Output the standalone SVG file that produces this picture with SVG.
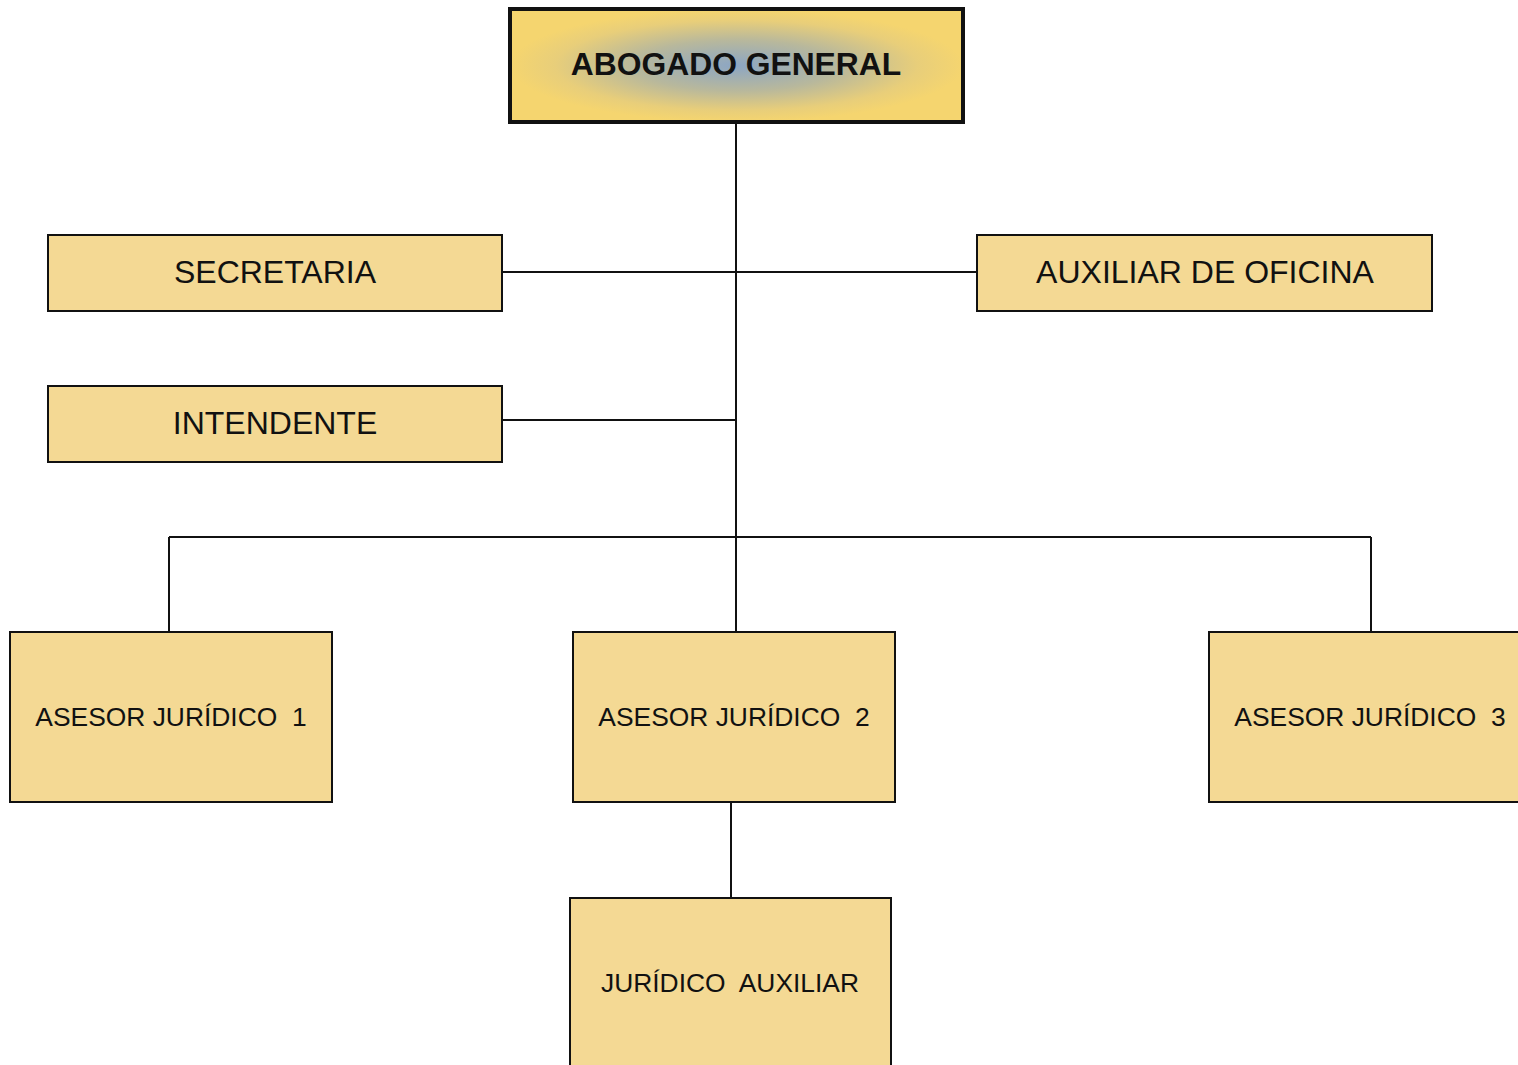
<svg xmlns="http://www.w3.org/2000/svg" width="1518" height="1065" viewBox="0 0 1518 1065">
<defs>
<radialGradient id="g1" cx="0.5" cy="0.5" r="0.5">
<stop offset="0" stop-color="#8CA6C4"/>
<stop offset="0.45" stop-color="#B8B89C"/>
<stop offset="0.8" stop-color="#E8CE7A"/>
<stop offset="1" stop-color="#F5D56F"/>
</radialGradient>
<style>
.box{fill:#F4D994;stroke:#111;stroke-width:2}
.t{font-family:"Liberation Sans",Arial,sans-serif;fill:#111;text-anchor:middle;white-space:pre}
.conn line{stroke:#111;stroke-width:2}
</style>
</defs>
<g class="conn" id="connectors">
<line x1="736" y1="122" x2="736" y2="632"/>
<line x1="502" y1="272" x2="976" y2="272"/>
<line x1="502" y1="420" x2="736" y2="420"/>
<line x1="169" y1="537" x2="1371" y2="537"/>
<line x1="169" y1="537" x2="169" y2="632"/>
<line x1="1371" y1="537" x2="1371" y2="632"/>
<line x1="731" y1="802" x2="731" y2="898"/>
</g>
<g id="abogado">
<rect x="510" y="9" width="453" height="113" fill="url(#g1)" stroke="#111" stroke-width="4"/>
<text class="t" x="736" y="75" font-size="31.8" font-weight="bold">ABOGADO GENERAL</text>
</g>
<g id="secretaria">
<rect class="box" x="48" y="235" width="454" height="76"/>
<text class="t" x="275" y="282.5" font-size="32">SECRETARIA</text>
</g>
<g id="auxiliar-oficina">
<rect class="box" x="977" y="235" width="455" height="76"/>
<text class="t" x="1205" y="282.5" font-size="32">AUXILIAR DE OFICINA</text>
</g>
<g id="intendente">
<rect class="box" x="48" y="386" width="454" height="76"/>
<text class="t" x="275" y="433.5" font-size="32">INTENDENTE</text>
</g>
<g id="asesor1">
<rect class="box" x="10" y="632" width="322" height="170"/>
<text class="t" x="171" y="725.5" font-size="26.4">ASESOR JURÍDICO  1</text>
</g>
<g id="asesor2">
<rect class="box" x="573" y="632" width="322" height="170"/>
<text class="t" x="734" y="725.5" font-size="26.4">ASESOR JURÍDICO  2</text>
</g>
<g id="asesor3">
<rect class="box" x="1209" y="632" width="322" height="170"/>
<text class="t" x="1370" y="725.5" font-size="26.4">ASESOR JURÍDICO  3</text>
</g>
<g id="juridico-auxiliar">
<rect class="box" x="570" y="898" width="321" height="180"/>
<text class="t" x="730" y="991.5" font-size="26.4">JURÍDICO  AUXILIAR</text>
</g>
</svg>
